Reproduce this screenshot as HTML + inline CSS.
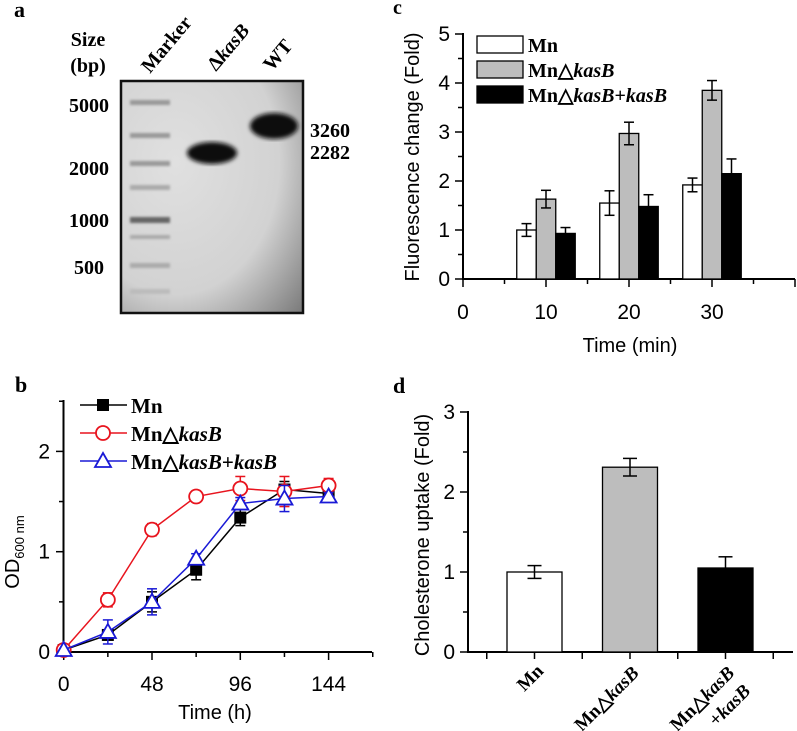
<!DOCTYPE html>
<html><head><meta charset="utf-8"><style>
html,body{margin:0;padding:0;background:#fff;}
svg{display:block;}
.ser{font-family:"Liberation Serif",serif;font-weight:bold;}
.san{font-family:"Liberation Sans",sans-serif;}
</style></head><body>
<svg id="fig" width="797" height="731" viewBox="0 0 797 731" xmlns="http://www.w3.org/2000/svg">
<defs>
<radialGradient id="gelbg" cx="0.3" cy="0.35" r="0.95">
<stop offset="0" stop-color="#e0e0e0"/><stop offset="0.6" stop-color="#d2d2d2"/><stop offset="1" stop-color="#7a7a7a"/>
</radialGradient>
<filter id="blur2"><feGaussianBlur stdDeviation="2"/></filter>
<filter id="blur1"><feGaussianBlur stdDeviation="1.3"/></filter>
</defs>
<!-- Panel a -->
<g>
<text x="14" y="17" class="ser" font-size="22">a</text>
<text x="88" y="46" class="ser" font-size="20" text-anchor="middle">Size</text>
<text x="88" y="72" class="ser" font-size="20" text-anchor="middle">(bp)</text>
<text transform="translate(150,74) rotate(-50)" class="ser" font-size="20">Marker</text>
<text transform="translate(216,72) rotate(-50)" class="ser" font-size="20">Δ<tspan font-style="italic">kasB</tspan></text>
<text transform="translate(272,72) rotate(-50)" class="ser" font-size="20">WT</text>
<rect x="121" y="81" width="182" height="232" fill="url(#gelbg)" stroke="#111" stroke-width="2.5"/>
<g filter="url(#blur1)">
<rect x="130" y="100" width="40" height="5" fill="#999"/>
<rect x="130" y="133" width="40" height="5" fill="#999"/>
<rect x="130" y="161" width="40" height="5" fill="#999"/>
<rect x="130" y="185" width="40" height="5" fill="#aaa"/>
<rect x="130" y="217" width="40" height="6" fill="#666"/>
<rect x="130" y="235" width="40" height="4" fill="#aaa"/>
<rect x="130" y="263" width="40" height="5" fill="#aaa"/>
<rect x="130" y="289" width="40" height="5" fill="#bbb"/>
</g>
<ellipse cx="212" cy="153" rx="25" ry="11" fill="#111" filter="url(#blur2)"/>
<ellipse cx="274" cy="126" rx="24" ry="13" fill="#111" filter="url(#blur2)"/>
<g class="ser" font-size="20" text-anchor="end">
<text x="109" y="112">5000</text><text x="109" y="175">2000</text><text x="109" y="227">1000</text><text x="104" y="274">500</text>
</g>
<text x="310" y="137" class="ser" font-size="20">3260</text>
<text x="310" y="159" class="ser" font-size="20">2282</text>
</g>
<!-- Panel c -->
<g id="pc">
<text x="393" y="14" class="ser" font-size="20">c</text>
<text transform="translate(419,157) rotate(-90)" class="san" font-size="20" text-anchor="middle">Fluorescence change (Fold)</text>
<text x="630" y="352" class="san" font-size="20" text-anchor="middle">Time (min)</text>
</g>
<!-- Panel b -->
<g id="pb">
<text x="15" y="392" class="ser" font-size="22">b</text>
<text transform="translate(19,552) rotate(-90)" class="san" font-size="20" text-anchor="middle">OD<tspan font-size="13" dy="5">600 nm</tspan></text>
<text x="215" y="719" class="san" font-size="20" text-anchor="middle">Time (h)</text>
</g>
<!-- Panel d -->
<g id="pd">
<text x="393" y="393" class="ser" font-size="22">d</text>
<text transform="translate(429,535) rotate(-90)" class="san" font-size="20" text-anchor="middle">Cholesterone uptake (Fold)</text>
</g>
</svg>
<script>
// Panel c data
const cTimes = [10, 20, 30];
const cMn = [1.0, 1.55, 1.92];
const cMnErr = [0.13, 0.25, 0.14];
const cKo = [1.63, 2.97, 3.85];
const cKoErr = [0.18, 0.23, 0.2];
const cComp = [0.93, 1.48, 2.15];
const cCompErr = [0.12, 0.24, 0.3];
const cYTicks = [0, 1, 2, 3, 4, 5];
const cXTicks = [0, 10, 20, 30];
// Panel b data
const bTimes = [0, 24, 48, 72, 96, 120, 144];
const bMn = [0.02, 0.17, 0.5, 0.82, 1.34, 1.62, 1.58];
const bMnErr = [0, 0.05, 0.1, 0.1, 0.08, 0.08, 0.04];
const bKo = [0.02, 0.52, 1.22, 1.55, 1.63, 1.6, 1.66];
const bKoErr = [0, 0.07, 0.06, 0.05, 0.12, 0.15, 0.07];
const bComp = [0.02, 0.2, 0.5, 0.93, 1.48, 1.53, 1.55];
const bCompErr = [0, 0.12, 0.13, 0.05, 0.06, 0.13, 0.04];
const bYTicks = [0, 1, 2];
const bXTicks = [0, 48, 96, 144];
// Panel d data
const dCats = ["Mn", "MnΔkasB", "MnΔkasB+kasB"];
const dVals = [1.0, 2.31, 1.05];
const dErr = [0.08, 0.11, 0.14];
const dYTicks = [0, 1, 2, 3];

const NS = "http://www.w3.org/2000/svg";
function mk(parent, tag, attrs){const e=document.createElementNS(NS,tag);for(const k in attrs)e.setAttribute(k,attrs[k]);parent.appendChild(e);return e;}
function ln(p,x1,y1,x2,y2,c,w){return mk(p,'line',{x1:x1,y1:y1,x2:x2,y2:y2,stroke:c||'#000','stroke-width':w||1.5});}

// ---------- Panel c ----------
(function(){
const g=document.getElementById('pc');
const xs=t=>463+(t/40)*332, ys=v=>279-v*49;
ln(g,463,ys(5)-1,463,280,'#000',2);ln(g,462,279,795,279,'#000',2);
for(let v=0;v<=5;v+=0.5){ln(g,v%1===0?455:458,ys(v),463,ys(v));}
cYTicks.forEach(v=>{const t=mk(g,'text',{x:450,y:ys(v)+7,'text-anchor':'end','font-size':21,'class':'san'});t.textContent=v;

});
for(let t=0;t<=40;t+=5){ln(g,xs(t),279,xs(t),t%10===0?287:284);}
cXTicks.forEach(v=>{const t=mk(g,'text',{x:xs(v),y:319,'text-anchor':'middle','font-size':21,'class':'san'});t.textContent=v;

});
const series=[[cMn,cMnErr,'#fff','mn'],[cKo,cKoErr,'#bdbdbd','ko'],[cComp,cCompErr,'#000','comp']];
const bw=19.5;
series.forEach((s,si)=>{cTimes.forEach((t,i)=>{
 const cx=xs(t)+(si-1)*bw;
 const r=mk(g,'rect',{x:cx-bw/2,y:ys(s[0][i]),width:bw,height:279-ys(s[0][i]),fill:s[2],stroke:'#000','stroke-width':1.3});
 
 
 const top=ys(s[0][i]+s[1][i]),bot=ys(s[0][i]-s[1][i]);
 const eg=mk(g,'g',{});
 
 
 ln(eg,cx,top,cx,bot,'#000',1.5);ln(eg,cx-5,top,cx+5,top,'#000',1.5);ln(eg,cx-5,bot,cx+5,bot,'#000',1.5);
});});
const leg=[['Mn','#fff',36],['MnΔ','#bdbdbd',61],['MnΔ','#000',86]];
leg.forEach((l,i)=>{
 const lg=mk(g,'g',{});
 
 
 mk(lg,'rect',{x:477,y:l[2],width:46,height:17,fill:l[1],stroke:'#000','stroke-width':1.3});
 const t=mk(lg,'text',{x:528,y:l[2]+16,'font-size':20,'class':'ser'});
 t.innerHTML = i===0?'Mn':(i===1?'Mn△<tspan font-style="italic">kasB</tspan>':'Mn△<tspan font-style="italic">kasB</tspan>+<tspan font-style="italic">kasB</tspan>');
});
})();

// ---------- Panel b ----------
(function(){
const g=document.getElementById('pb');
const xs=t=>63.7+t*(88.3/48), ys=v=>652-v*100.3;
ln(g,63.5,400,63.5,653,'#000',2);ln(g,62,652,372,652,'#000',2);
for(let v=0;v<=2.5;v+=0.5){ln(g,v%1===0?56:59,ys(v),63,ys(v));}
bYTicks.forEach(v=>{const t=mk(g,'text',{x:50,y:ys(v)+7,'text-anchor':'end','font-size':21,'class':'san'});t.textContent=v;

});
for(let t=0;t<=168;t+=24){ln(g,xs(t),652,xs(t),t%48===0?660:657);}
bXTicks.forEach(v=>{const t=mk(g,'text',{x:xs(v),y:691,'text-anchor':'middle','font-size':21,'class':'san'});t.textContent=v;

});
const series=[[bMn,bMnErr,'#000','mn','sq'],[bKo,bKoErr,'#e8141e','ko','ci'],[bComp,bCompErr,'#1a1ad6','comp','tr']];
function marker(p,type,x,y,c){
 if(type==='sq') return mk(p,'rect',{x:x-6,y:y-6,width:12,height:12,fill:'#000'});
 if(type==='ci') return mk(p,'circle',{cx:x,cy:y,r:7,fill:'#fff',stroke:c,'stroke-width':1.8});
 return mk(p,'polygon',{points:`${x},${y-8} ${x-8},${y+6} ${x+8},${y+6}`,fill:'#fff',stroke:c,'stroke-width':1.8});
}
series.forEach(s=>{
 const sg=mk(g,'g',{});
 
 
 const pts=bTimes.map((t,i)=>xs(t)+','+ys(s[0][i])).join(' ');
 mk(sg,'polyline',{points:pts,fill:'none',stroke:s[2],'stroke-width':1.5});
 bTimes.forEach((t,i)=>{
  const x=xs(t),top=ys(s[0][i]+s[1][i]),bot=ys(s[0][i]-s[1][i]);
  if(s[1][i]>0){ln(sg,x,top,x,bot,s[2],1.5);ln(sg,x-5,top,x+5,top,s[2],1.5);ln(sg,x-5,bot,x+5,bot,s[2],1.5);}
  const m=marker(sg,s[4],x,ys(s[0][i]),s[2]);
  
  
 });
});
const leg=[[405,'#000','sq'],[433,'#e8141e','ci'],[461,'#1a1ad6','tr']];
leg.forEach((l,i)=>{
 const lg=mk(g,'g',{});
 
 
 ln(lg,80,l[0],127,l[0],l[1],1.5);marker(lg,l[2],103,l[0],l[1]);
 const t=mk(lg,'text',{x:131,y:l[0]+8,'font-size':21,'class':'ser'});
 t.innerHTML = i===0?'Mn':(i===1?'Mn△<tspan font-style="italic">kasB</tspan>':'Mn△<tspan font-style="italic">kasB</tspan>+<tspan font-style="italic">kasB</tspan>');
});
})();

// ---------- Panel d ----------
(function(){
const g=document.getElementById('pd');
const ys=v=>652-v*80, xc=i=>534.5+i*95.5;
ln(g,468,411,468,653,'#000',2);ln(g,467,652,793,652,'#000',2);
for(let v=0;v<=3;v+=0.5){ln(g,v%1===0?460:463,ys(v),468,ys(v));}
dYTicks.forEach(v=>{const t=mk(g,'text',{x:455,y:ys(v)+7,'text-anchor':'end','font-size':21,'class':'san'});t.textContent=v;

});
for(let k=-1;k<=5;k++){const x=534.5+k*47.75;ln(g,x,652,x,659);}
const fills=['#fff','#bdbdbd','#000'];
dCats.forEach((c,i)=>{
 const cx=xc(i),v=dVals[i];
 const r=mk(g,'rect',{x:cx-27.5,y:ys(v),width:55,height:652-ys(v),fill:fills[i],stroke:'#000','stroke-width':1.3});
 
 
 const top=ys(v+dErr[i]),bot=ys(v-dErr[i]);
 const eg=mk(g,'g',{});
 
 
 ln(eg,cx,top,cx,bot,'#000',1.5);ln(eg,cx-7,top,cx+7,top,'#000',1.5);ln(eg,cx-7,bot,cx+7,bot,'#000',1.5);
});
const labs=['Mn','Mn△<tspan font-style="italic">kasB</tspan>','Mn△<tspan font-style="italic">kasB</tspan>'];
dCats.forEach((c,i)=>{
 const t=mk(g,'text',{transform:`translate(${xc(i)+10},${i===0?672:674}) rotate(-45)`,'text-anchor':'end','font-size':19,'class':'ser'});
 t.innerHTML=labs[i];
 
 
});
const t2=mk(g,'text',{transform:`translate(${xc(2)+26},${692}) rotate(-45)`,'text-anchor':'end','font-size':19,'class':'ser'});
t2.innerHTML='+<tspan font-style="italic">kasB</tspan>';


})();
</script>
</body></html>
